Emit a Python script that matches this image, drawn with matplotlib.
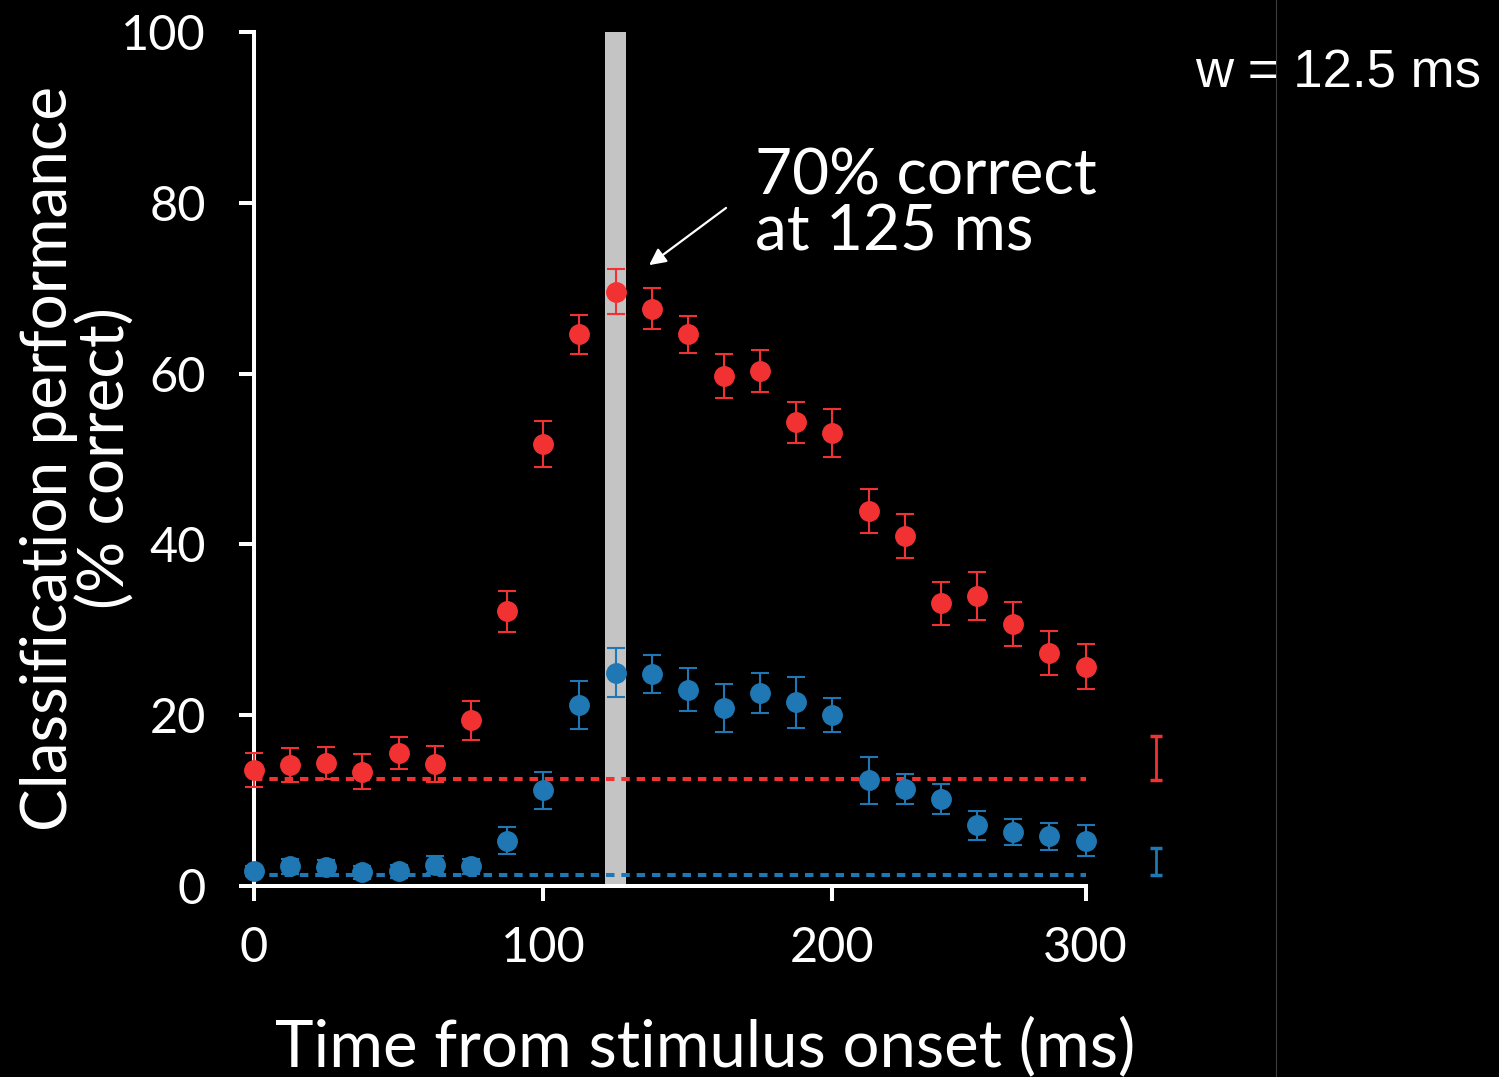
import numpy as np
import matplotlib.pyplot as plt
from matplotlib import font_manager
from matplotlib.lines import Line2D

# time bins (ms) and classification performance (% correct)
time_ms = [0, 12.5, 25, 37.5, 50, 62.5, 75, 87.5, 100, 112.5, 125, 137.5,
           150, 162.5, 175, 187.5, 200, 212.5, 225, 237.5, 250, 262.5, 275, 287.5]
red_mean = [13.6, 14.2, 14.4, 13.4, 15.6, 14.3, 19.4, 32.2, 51.8, 64.6, 69.6, 67.6,
            64.6, 59.7, 60.3, 54.3, 53.0, 43.9, 41.0, 33.1, 34.0, 30.7, 27.3, 25.7]
red_err = [2.0, 2.0, 1.9, 2.0, 1.9, 2.1, 2.3, 2.4, 2.7, 2.3, 2.6, 2.4,
           2.2, 2.6, 2.5, 2.4, 2.8, 2.6, 2.6, 2.5, 2.8, 2.6, 2.6, 2.6]
blue_mean = [1.8, 2.3, 2.2, 1.6, 1.7, 2.5, 2.3, 5.3, 11.2, 21.2, 25.0, 24.8,
             23.0, 20.8, 22.6, 21.5, 20.0, 12.4, 11.4, 10.2, 7.1, 6.3, 5.8, 5.3]
blue_err = [0.6, 0.9, 0.9, 0.8, 0.8, 1.0, 0.9, 1.6, 2.2, 2.8, 2.9, 2.2,
            2.5, 2.8, 2.3, 2.95, 2.0, 2.75, 1.75, 1.8, 1.7, 1.55, 1.6, 1.8]
chance_red = 12.5
chance_blue = 1.3

# scale bars drawn right of the data
scale_x = 312
red_scale = (15.0, 2.55)
blue_scale = (2.85, 1.55)

xtick_pos = [0, 100, 200, 287.5]
xtick_lab = ['0', '100', '200', '300']
ytick_pos = [0, 20, 40, 60, 80, 100]

red = '#f23232'
blue = '#1f77b4'

names = {f.name for f in font_manager.fontManager.ttflist}
font = 'Lato' if 'Lato' in names else 'DejaVu Sans'

W, H = 1499, 1077
fig = plt.figure(figsize=(W / 100, H / 100), dpi=100, facecolor='black')
ax = fig.add_axes([254 / W, 191 / H, 954.5 / W, 854 / H])
ax.set_facecolor('black')
ax.set_xlim(0, 330)
ax.set_ylim(0, 100)

ax.axvspan(121.5, 128.5, color='#c4c4c4', lw=0, zorder=1)
for lvl, c in [(chance_red, red), (chance_blue, blue)]:
    ax.plot([time_ms[0], time_ms[-1]], [lvl, lvl], color=c, lw=2.9,
            dashes=(2.1, 1.7), dash_capstyle='butt', zorder=2)

for m, e, c in [(red_mean, red_err, red), (blue_mean, blue_err, blue)]:
    ax.errorbar(time_ms, m, yerr=e, fmt='o', color=c, ms=14, elinewidth=1.5,
                capsize=6.5, capthick=1.5, zorder=4, clip_on=False)

for (mid, half), c in [(red_scale, red), (blue_scale, blue)]:
    ax.errorbar([scale_x], [mid], yerr=[half], fmt='none', ecolor=c,
                elinewidth=2, capsize=4.3, capthick=2.5, clip_on=False)

ax.annotate('', xy=(136.6, 72.7), xytext=(163.2, 79.4),
            arrowprops=dict(arrowstyle='-|>', color='white', lw=1.6,
                            mutation_scale=25, shrinkA=0, shrinkB=0))
ax.text(173.2, 86.5, '70% correct\nat 125 ms', fontsize=46, color='white',
        family=font, va='top', linespacing=0.97)

for s in ['top', 'right']:
    ax.spines[s].set_visible(False)
for s in ['left', 'bottom']:
    ax.spines[s].set_color('white')
    ax.spines[s].set_linewidth(2.9)
ax.spines['left'].set_bounds(0, 100)
ax.spines['bottom'].set_bounds(0, 287.5)

ax.set_xticks(xtick_pos, xtick_lab)
ax.set_yticks(ytick_pos)
ax.tick_params(colors='white', width=2.9, length=10.5, direction='out', labelsize=35)
ax.tick_params(axis='y', pad=24)
ax.tick_params(axis='x', pad=18)
for t in ax.get_xticklabels() + ax.get_yticklabels():
    t.set_fontfamily(font)

fig.text(705 / W, 1 - 1066 / H, 'Time from stimulus onset (ms)', ha='center',
         va='baseline', fontsize=47, family=font, color='white')
fig.text(78 / W, 1 - 458 / H, 'Classification performance\n(% correct)', rotation=90,
         ha='center', va='center', multialignment='center', fontsize=46,
         family=font, linespacing=0.97, color='white')

fig.add_artist(Line2D([1276 / W] * 2, [0, 1], color='#3c3c3c', lw=0.8,
                      transform=fig.transFigure))
fig.text(1195 / W, 1 - 88 / H, 'w = 12.5 ms', fontsize=38, family='Liberation Sans',
         color='white', va='baseline')

fig.savefig('out.png', dpi=100, facecolor='black')
